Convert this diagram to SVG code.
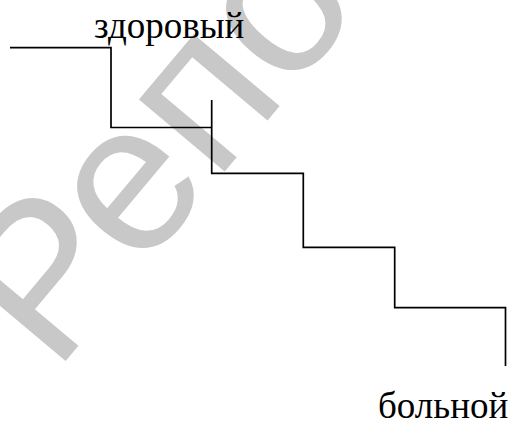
<svg xmlns="http://www.w3.org/2000/svg" width="513" height="423" viewBox="0 0 513 423">
<style>
.lbl{font-family:"Liberation Serif","Times New Roman",serif;font-size:37px;fill:#000}
.wm{font-family:"Liberation Sans",Arial,sans-serif;font-size:212px;fill:#c8c8c8}
.step{fill:none;stroke:#000;stroke-width:1.7;stroke-linejoin:miter;stroke-linecap:butt}
</style>
<rect width="513" height="423" fill="#fff"/>
<g id="watermark">
<text class="wm" transform="translate(54.6,374.3) rotate(-50)">Репо</text>
</g>
<g id="connectors">
<polyline class="step" points="10,47.7 111,47.7 111,127.5 212,127.5"/>
<polyline class="step" points="211.7,100 211.7,173.3 303.3,173.3 303.3,247.3 394.7,247.3 394.7,307.7 505.5,307.7 505.5,366"/>
</g>
<g id="node-healthy">
<text class="lbl" x="94" y="37.5">здоровый</text>
</g>
<g id="node-sick">
<text class="lbl" x="378" y="418">больной</text>
</g>
</svg>
